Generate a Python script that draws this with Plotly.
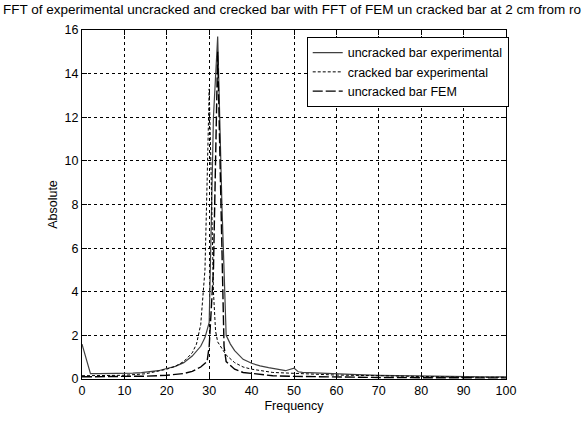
import plotly.graph_objects as go

# Uncracked bar experimental
f_unc = [0, 2, 4, 6, 8, 10, 12, 14, 16, 18, 20, 22, 24, 26, 28, 29, 30, 30.5, 31, 32, 33, 34, 35, 36, 38, 40, 42, 44, 46, 48, 50, 51, 52, 54, 56, 58, 60, 65, 70, 75, 80, 85, 90, 95, 100]
a_unc = [1.6, 0.25, 0.25, 0.25, 0.25, 0.26, 0.27, 0.29, 0.32, 0.38, 0.48, 0.58, 0.75, 1.05, 1.5, 1.9, 2.6, 8.0, 12.0, 15.7, 8.0, 2.0, 1.6, 1.3, 0.9, 0.72, 0.6, 0.52, 0.45, 0.38, 0.5, 0.33, 0.3, 0.28, 0.27, 0.25, 0.22, 0.2, 0.17, 0.15, 0.14, 0.12, 0.11, 0.1, 0.1]

# Cracked bar experimental
f_crk = [0, 5, 10, 15, 18, 20, 22, 24, 26, 27, 28, 29, 29.5, 30, 30.5, 31, 31.5, 32, 34, 36, 38, 40, 45, 50, 55, 60, 70, 80, 90, 100]
a_crk = [0.15, 0.15, 0.17, 0.24, 0.35, 0.45, 0.58, 0.8, 1.2, 1.6, 2.5, 5.0, 9.0, 13.3, 9.0, 4.0, 2.2, 1.7, 1.1, 0.75, 0.55, 0.45, 0.3, 0.25, 0.2, 0.18, 0.15, 0.1, 0.08, 0.08]

# Uncracked bar FEM
f_fem = [0, 5, 10, 15, 20, 24, 26, 28, 29.5, 30, 31, 32, 33, 33.5, 34, 36, 38, 40, 45, 50, 55, 60, 70, 80, 90, 100]
a_fem = [0.1, 0.1, 0.12, 0.13, 0.17, 0.25, 0.35, 0.55, 0.8, 1.5, 5.0, 15.0, 6.0, 1.5, 0.8, 0.45, 0.3, 0.25, 0.15, 0.12, 0.1, 0.09, 0.07, 0.06, 0.05, 0.05]

x_ticks = list(range(0, 101, 10))
y_ticks = list(range(0, 17, 2))

# Title as visible in the reference (cut at the right edge there)
title_text = "FFT of experimental uncracked and crecked bar with FFT of FEM un cracked bar at 2 cm from ro"

font_family = "Liberation Sans, Arial, sans-serif"

fig = go.Figure()
fig.add_trace(go.Scatter(x=f_unc, y=a_unc, mode="lines", name="uncracked bar experimental",
                         line=dict(color="#404040", width=1.2, dash="solid")))
fig.add_trace(go.Scatter(x=f_crk, y=a_crk, mode="lines", name="cracked bar experimental",
                         line=dict(color="black", width=1, dash="3px,2px")))
fig.add_trace(go.Scatter(x=f_fem, y=a_fem, mode="lines", name="uncracked bar FEM",
                         line=dict(color="black", width=1.4, dash="10px,3px")))

axis_common = dict(
    showgrid=True, gridcolor="black", gridwidth=1, griddash="3px,3px",
    showline=True, linecolor="black", linewidth=1, mirror="ticks",
    ticks="inside", ticklen=5, tickcolor="black",
    zeroline=False, tickfont=dict(family=font_family, size=12.5, color="black"),
)

fig.update_xaxes(range=[0, 100], tickvals=x_ticks, ticktext=[str(v) for v in x_ticks],
                 title=dict(text="Frequency", font=dict(family=font_family, size=12.5, color="black"), standoff=4),
                 **axis_common)
fig.update_yaxes(range=[0, 16], tickvals=y_ticks, ticktext=[str(v) for v in y_ticks],
                 title=dict(text="Absolute", font=dict(family=font_family, size=12.5, color="black"), standoff=4),
                 **axis_common)

fig.update_layout(
    width=586, height=423,
    margin=dict(l=82, r=80, t=30, b=38),
    paper_bgcolor="white", plot_bgcolor="white",
    font=dict(family=font_family, size=12, color="black"),
    title=dict(text=title_text,
               x=3/586, xanchor="left", xref="container", y=1-9/423, yanchor="middle", yref="container",
               font=dict(family=font_family, size=13.5, color="black")),
    showlegend=True,
    legend=dict(x=0.53, y=0.98, xanchor="left", yanchor="top", bgcolor="white",
                bordercolor="black", borderwidth=1, font=dict(family=font_family, size=12.5, color="black"),
                tracegroupgap=0, itemwidth=30),
)

fig.write_html("out.html")
